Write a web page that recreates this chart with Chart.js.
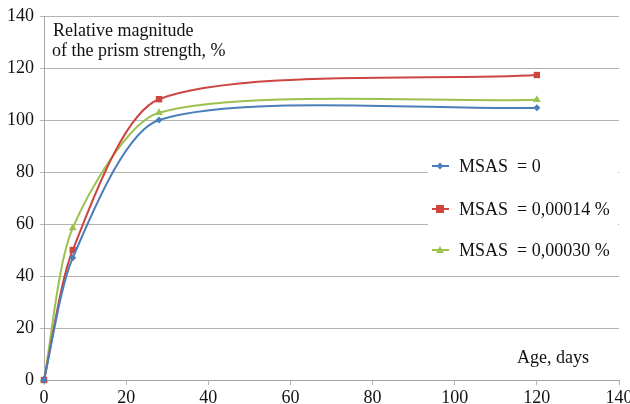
<!DOCTYPE html>
<html>
<head>
<meta charset="utf-8">
<script src="https://cdn.jsdelivr.net/npm/chart.js@4/dist/chart.umd.min.js"></script>
<style>
  html, body { margin: 0; padding: 0; background: #fff; }
  #wrap { width: 630px; height: 404px; }
</style>
</head>
<body>
<div id="wrap"><canvas id="prismChart"></canvas></div>
<script>
// age, days
const ages = [0, 7, 28, 120];
// relative prism strength, %
const msas0 = [0, 47, 100, 104.7];
const msas14 = [0, 50, 108, 117.3];
const msas30 = [0, 58.5, 102.8, 107.8];
const seriesLabels = ['MSAS  = 0', 'MSAS  = 0,00014 %', 'MSAS  = 0,00030 %'];
const xTicks = [0, 20, 40, 60, 80, 100, 120, 140];
const yTicks = [0, 20, 40, 60, 80, 100, 120, 140];

const serif = "'Liberation Serif', 'Times New Roman', serif";
const toPoints = (vals) => ages.map((a, i) => ({ x: a, y: vals[i] }));

// legend sits inside the plot on a white box, plus the axis captions
const overlayPlugin = {
  id: 'overlay',
  afterDraw(chart) {
    const ctx = chart.ctx;
    ctx.save();
    ctx.fillStyle = '#fff';
    ctx.fillRect(428, 150, 190, 115);
    const rows = [166, 209, 250];
    chart.data.datasets.forEach((ds, i) => {
      const y = rows[i];
      ctx.strokeStyle = ds.borderColor;
      ctx.lineWidth = 2;
      ctx.beginPath();
      ctx.moveTo(432, y);
      ctx.lineTo(449, y);
      ctx.stroke();
      ctx.fillStyle = ds.borderColor;
      ctx.beginPath();
      if (ds.pointStyle === 'rect') {
        ctx.fillRect(436, y - 4, 8, 8);
      } else if (ds.pointStyle === 'triangle') {
        ctx.moveTo(440, y - 4); ctx.lineTo(444, y + 3); ctx.lineTo(436, y + 3); ctx.closePath(); ctx.fill();
      } else {
        ctx.moveTo(440, y - 3.5); ctx.lineTo(443.5, y); ctx.lineTo(440, y + 3.5); ctx.lineTo(436.5, y); ctx.closePath(); ctx.fill();
      }
      ctx.fillStyle = '#111';
      ctx.font = '18px ' + serif;
      ctx.textBaseline = 'middle';
      ctx.textAlign = 'left';
      ctx.fillText(ds.label, 459, y + 1);
    });
    ctx.fillStyle = '#111';
    ctx.font = '18px ' + serif;
    ctx.textBaseline = 'middle';
    ctx.fillText('Relative magnitude', 53, 31);
    ctx.fillText('of the prism strength, %', 52, 51);
    ctx.fillText('Age, days', 517, 358);
    ctx.restore();
  }
};

new Chart(document.getElementById('prismChart'), {
  type: 'scatter',
  data: {
    datasets: [
      {
        label: seriesLabels[0],
        data: toPoints(msas0),
        borderColor: '#4a7ebb',
        backgroundColor: '#4a7ebb',
        pointStyle: 'rectRot',
        pointRadius: 3.5,
      },
      {
        label: seriesLabels[1],
        data: toPoints(msas14),
        borderColor: '#cd4440',
        backgroundColor: '#cd4440',
        pointStyle: 'rect',
        pointRadius: 4.5,
      },
      {
        label: seriesLabels[2],
        data: toPoints(msas30),
        borderColor: '#9bc24f',
        backgroundColor: '#9bc24f',
        pointStyle: 'triangle',
        pointRadius: 4.5,
      },
    ].map(ds => Object.assign(ds, { showLine: true, borderWidth: 2, tension: 0.25, clip: false, pointBorderWidth: 0 })),
  },
  options: {
    responsive: true,
    maintainAspectRatio: false,
    animation: false,
    layout: { padding: { top: 16, right: 0, left: 0, bottom: 0 } },
    plugins: { legend: { display: false }, tooltip: { enabled: false } },
    scales: {
      x: {
        type: 'linear',
        min: 0,
        max: 140,
        afterBuildTicks: (s) => { s.ticks = xTicks.map(v => ({ value: v })); },
        afterFit: (s) => { s.height = 24; s.paddingRight = 11; s.paddingLeft = 0; },
        grid: { drawOnChartArea: false, drawTicks: true, tickLength: 5, color: '#b3b3b3' },
        border: { color: '#a6a6a6', width: 1 },
        ticks: { color: '#111', font: { family: serif, size: 18 }, padding: 2, maxRotation: 0 },
      },
      y: {
        min: 0,
        max: 140,
        afterBuildTicks: (s) => { s.ticks = yTicks.map(v => ({ value: v })); },
        afterFit: (s) => { s.width = 44; s.paddingTop = 0; s.paddingBottom = 0; },
        grid: { color: '#b3b3b3', tickLength: 4 },
        border: { color: '#a6a6a6', width: 1 },
        ticks: { color: '#111', font: { family: serif, size: 18 }, padding: 6 },
      },
    },
  },
  plugins: [overlayPlugin],
});
</script>
</body>
</html>
